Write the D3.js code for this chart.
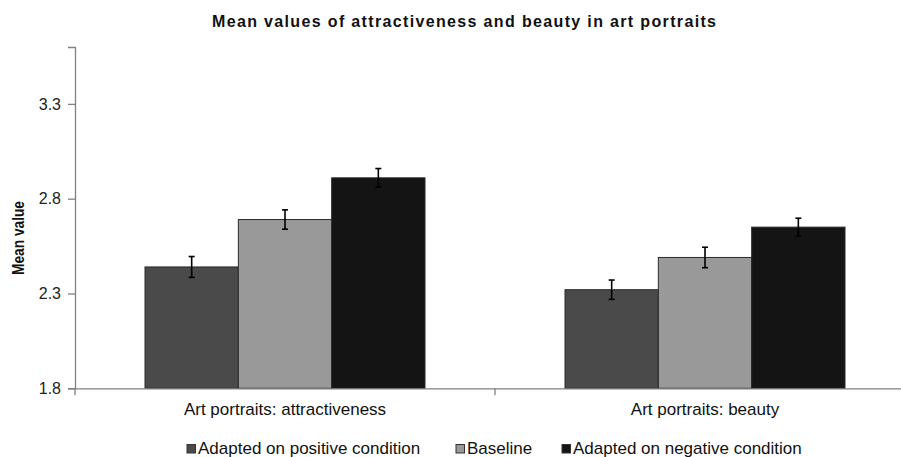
<!DOCTYPE html>
<html>
<head>
<meta charset="utf-8">
<script src="https://cdn.jsdelivr.net/npm/d3@7"></script>
<style>
  html, body { margin: 0; padding: 0; background: #fff; }
  svg { display: block; font-family: "Liberation Sans", Arial, sans-serif; }
</style>
</head>
<body>
<svg id="chart" width="901" height="457"></svg>
<script>
const title = "Mean values of attractiveness and beauty in art portraits";
const yLabel = "Mean value";
const categories = ["Art portraits: attractiveness", "Art portraits: beauty"];
const seriesNames = ["Adapted on positive condition", "Baseline", "Adapted on negative condition"];
const positiveValues = [2.44, 2.32];
const baselineValues = [2.69, 2.49];
const negativeValues = [2.91, 2.65];
const positiveErrors = [0.055, 0.051];
const baselineErrors = [0.051, 0.054];
const negativeErrors = [0.049, 0.047];
const yTicks = [1.8, 2.3, 2.8, 3.3];
const yDomain = [1.8, 3.6];
const colors = ["#4a4a4a", "#999999", "#141414"];

const seriesValues = [positiveValues, baselineValues, negativeValues];
const seriesErrors = [positiveErrors, baselineErrors, negativeErrors];

const svg = d3.select("#chart");
const mLeft = 75, mRight = 915, mTop = 47, mBottom = 388.3;

const y = d3.scaleLinear().domain(yDomain).range([mBottom, mTop]);
const x = d3.scaleBand().domain(categories).range([mLeft, mRight]).paddingInner(0).paddingOuter(0);
const bw = x.bandwidth();
const x1 = d3.scaleBand().domain(seriesNames).range([bw / 6, bw * 5 / 6]).padding(0);

// Title
svg.append("text")
  .attr("x", 212).attr("y", 27)
  .attr("font-size", 16).attr("font-weight", "bold")
  .attr("textLength", 504).attr("lengthAdjust", "spacing")
  .attr("fill", "#111")
  .text(title);

// Y axis
const yAxis = d3.axisLeft(y).tickValues(yTicks).tickFormat(d3.format(".1f")).tickSizeOuter(0).tickSize(7).tickPadding(7);
const gy = svg.append("g").attr("transform", `translate(${mLeft},0)`).call(yAxis);
gy.select(".domain").attr("stroke", "#808080").attr("stroke-width", 1.3);
gy.selectAll(".tick line").attr("stroke", "#808080").attr("stroke-width", 1.3);
gy.selectAll(".tick text").attr("font-size", 16).attr("fill", "#222").attr("font-family", "Liberation Sans, Arial, sans-serif");

// Bars
const data = [];
categories.forEach((c, ci) => {
  seriesNames.forEach((s, si) => {
    data.push({ c, s, si, v: seriesValues[si][ci], e: seriesErrors[si][ci] });
  });
});

const g = svg.append("g");
g.selectAll("rect.bar").data(data).join("rect")
  .attr("class", "bar")
  .attr("x", d => x(d.c) + x1(d.s))
  .attr("width", x1.bandwidth())
  .attr("y", d => y(d.v))
  .attr("height", d => y(yDomain[0]) - y(d.v))
  .attr("fill", d => colors[d.si])
  .attr("stroke", "#2a2a2a")
  .attr("stroke-width", 1);

// Error bars
const cap = 3;
const cx = d => x(d.c) + x1(d.s) + x1.bandwidth() / 2;
const eb = g.selectAll("g.err").data(data).join("g").attr("class", "err")
  .attr("stroke", "#000").attr("stroke-width", 1.6);
eb.append("line")
  .attr("x1", cx).attr("x2", cx)
  .attr("y1", d => y(d.v + d.e)).attr("y2", d => y(d.v - d.e));
eb.append("line")
  .attr("x1", d => cx(d) - cap).attr("x2", d => cx(d) + cap)
  .attr("y1", d => y(d.v + d.e)).attr("y2", d => y(d.v + d.e));
eb.append("line")
  .attr("x1", d => cx(d) - cap).attr("x2", d => cx(d) + cap)
  .attr("y1", d => y(d.v - d.e)).attr("y2", d => y(d.v - d.e));

// X axis
const xAxis = d3.axisBottom(x).tickSize(0).tickPadding(15);
const gx = svg.append("g").attr("transform", `translate(0,${mBottom})`).call(xAxis);
gx.select(".domain").attr("stroke", "#808080").attr("stroke-width", 1.3);
gx.selectAll(".tick text").attr("font-size", 17).attr("fill", "#111").attr("font-family", "Liberation Sans, Arial, sans-serif");
const boundaries = [mLeft, mLeft + bw, mRight];
gx.selectAll("line.bt").data(boundaries).join("line").attr("class", "bt")
  .attr("x1", d => d).attr("x2", d => d).attr("y1", 0).attr("y2", 7)
  .attr("stroke", "#808080").attr("stroke-width", 1.3);

// Y label
svg.append("text")
  .attr("transform", "translate(24,238) rotate(-90)")
  .attr("text-anchor", "middle")
  .attr("font-size", 16.5).attr("font-weight", "bold")
  .attr("textLength", 74).attr("lengthAdjust", "spacingAndGlyphs")
  .attr("fill", "#111")
  .text(yLabel);

// Legend
const legendX = [187, 456, 562];
const lg = svg.append("g");
const items = lg.selectAll("g").data(seriesNames).join("g")
  .attr("transform", (d, i) => `translate(${legendX[i]},0)`);
items.append("rect").attr("x", 0).attr("y", 444.5).attr("width", 8.5).attr("height", 8.5)
  .attr("fill", (d, i) => colors[i]).attr("stroke", "#333").attr("stroke-width", 1);
items.append("text").attr("x", 11).attr("y", 454)
  .attr("font-size", 17).attr("fill", "#111")
  .text(d => d);
</script>
</body>
</html>
